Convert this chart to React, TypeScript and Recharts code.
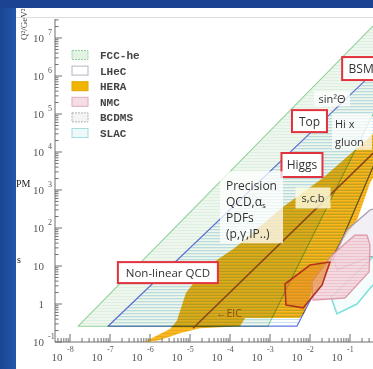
import React from "react";
import { ComposedChart, Scatter, XAxis, YAxis } from "recharts";

// kinematic reach in the (x, Q^2 / GeV^2) plane, vertices
const FCC_X = [1.6e-8, 0.53, 1.0, 1.0, 8.9e-4];
const FCC_Q2 = [0.26, 3e7, 3e7, 7.9e5, 0.26];

const LHEC_X = [8.9e-8, 1.0, 1.0, 0.35, 0.067, 4.7e-3];
const LHEC_Q2 = [0.26, 3.2e6, 3.4e4, 3.4e3, 58, 0.26];

const HERA_X = [7.1e-7, 1.41e-6, 3.16e-6, 4.7e-6, 7.9e-6, 2.4e-5, 1.33e-4, 2.1e-3, 0.021, 0.376, 1.0, 1.0, 0.316, 0.15, 0.067, 0.0316, 0.0119, 7.1e-3, 5.6e-3, 2.4e-4, 1.78e-4, 1.78e-5, 5.6e-6, 1.78e-6, 1e-6];
const HERA_Q2 = [0.1, 0.144, 0.22, 0.36, 1.95, 8.9, 30, 357, 2070, 2.98e4, 6.9e4, 1.13e4, 1530, 162, 48, 8.9, 2.6, 0.58, 0.43, 0.43, 0.26, 0.23, 0.17, 0.113, 0.1];

const EIC_X = [1.19e-5, 1.0];
const EIC_Q2 = [0.23, 2.5e4];

const NMC_X = [0.0112, 0.0355, 0.133, 0.266, 0.316, 0.3, 0.075, 0.0119];
const NMC_Q2 = [3.8, 19.5, 65, 65, 36, 7, 1.44, 1.27];

const BCDMS_X = [0.0376, 0.084, 0.316, 1.0, 1.0, 0.316, 0.047];
const BCDMS_Q2 = [16.3, 88.6, 298, 403, 23, 17.3, 7.9];

const SLAC_X = [0.0335, 0.376, 1.0, 1.0, 0.316, 0.15, 0.047];
const SLAC_Q2 = [1.53, 17.3, 36, 8.9, 2.6, 1.0, 0.55];

const HEX_X = [2.37e-3, 2.5e-3, 6.7e-3, 0.02, 0.0316, 0.01];
const HEX_Q2 = [3.36, 0.94, 0.79, 3.16, 12.7, 10.6];

const LABEL_TEXT = ["BSM", "sin²Θ", "Top", "Hi x|gluon", "Higgs", "Precision|QCD,αs|PDFs|(p,γ,IP..)", "s,c,b", "Non-linear QCD", "←EIC"];
const LABEL_X = [0.19, 0.0355, 9.7e-3, 0.112, 6.3e-3, 3.45e-4, 0.0119, 2.8e-6, 9.4e-5];
const LABEL_Q2 = [1.57e6, 2.5e5, 6.5e4, 3.4e4, 4550, 350, 617, 6.7, 0.58];

const LEGEND_NAMES = ["FCC-he", "LHeC", "HERA", "NMC", "BCDMS", "SLAC"];

const X_DECADES = [-9, -8, -7, -6, -5, -4, -3, -2, -1, 0];
const X_LABELLED = [-8, -7, -6, -5, -4, -3, -2, -1];
const Q2_DECADES = [-1, 0, 1, 2, 3, 4, 5, 6, 7];
const MINOR = [2, 3, 4, 5, 6, 7, 8, 9];

const X_DOMAIN = [-8.375, 0.25];
const Y_DOMAIN = [-1, 7.5];

const makeTicks = (decades: number[], dom: number[]) =>
  decades
    .flatMap((d) => [d, ...MINOR.map((m) => d + Math.log10(m))])
    .filter((v) => v >= dom[0] - 1e-9 && v <= dom[1] + 1e-9);

const xTicks = makeTicks(X_DECADES, X_DOMAIN);
const yTicks = makeTicks(Q2_DECADES, Y_DOMAIN);

const toPts = (xs: number[], qs: number[]) =>
  xs.map((x, i) => ({ x: Math.log10(x), y: Math.log10(qs[i]) }));

const isMajor = (v: number) => Math.abs(v - Math.round(v)) < 1e-6;

const polyLine =
  (fill: string, stroke: string, sw: number, style?: React.CSSProperties, closed = true) =>
  (p: any) => {
    const pts = p.points || [];
    const d = pts.map((q: any, i: number) => `${i ? "L" : "M"}${q.x},${q.y}`).join(" ") + (closed ? " Z" : "");
    return <path d={d} fill={fill} stroke={stroke} strokeWidth={sw} strokeLinejoin="round" style={style} />;
  };

const noDot = () => <g />;

const AXIS = "#6f6f6f";
const TICK_FONT = '"Liberation Serif", "DejaVu Serif", serif';

function XTick(p: any) {
  const v = p.payload.value;
  const major = isMajor(v);
  const e = Math.round(v);
  return (
    <g>
      <line x1={p.x} x2={p.x} y1={p.y} y2={p.y - (major ? 8 : 4)} stroke={AXIS} strokeWidth={1} />
      {major && X_LABELLED.includes(e) && (
        <g fill="#555" fontFamily={TICK_FONT}>
          <text x={p.x - 13} y={p.y + 19} fontSize={11} textAnchor="middle">10</text>
          <text x={p.x - 3} y={p.y + 10} fontSize={8}>{e}</text>
        </g>
      )}
    </g>
  );
}

function YTick(p: any) {
  const v = p.payload.value;
  const major = isMajor(v);
  const e = Math.round(v);
  return (
    <g>
      <line x1={p.x} x2={p.x + (major ? 7 : 3.5)} y1={p.y} y2={p.y} stroke={AXIS} strokeWidth={1} />
      {major && (
        <g fill="#555" fontFamily={TICK_FONT}>
          <text x={44} y={p.y + 4} fontSize={11} textAnchor="end">{e === 0 ? "1" : "10"}</text>
          {e !== 0 && e !== 1 && (
            <text x={48} y={p.y - 3} fontSize={8}>{e}</text>
          )}
        </g>
      )}
    </g>
  );
}

type BoxOpts = { w: number; h: number; red?: boolean; bg?: string; fs: number; left?: number; dy?: number[]; color?: string };

const renderLine = (t: string) =>
  t === "QCD,αs" ? (
    <>
      QCD,α<tspan fontSize={8} dy={3}>s</tspan>
    </>
  ) : (
    t
  );

const labelShape = (text: string, o: BoxOpts) => (p: any) => {
  const lines = text.split("|");
  const cx = p.cx;
  const cy = p.cy;
  return (
    <g>
      {(o.red || o.bg) && (
        <rect
          x={cx - o.w / 2}
          y={cy - o.h / 2}
          width={o.w}
          height={o.h}
          fill={o.bg || "#fff"}
          stroke={o.red ? "#e2323e" : "none"}
          strokeWidth={2}
        />
      )}
      {lines.map((t, i) => (
        <text
          key={i}
          x={o.left !== undefined ? cx - o.w / 2 + o.left : cx}
          y={cy + (o.dy ? o.dy[i] : 0)}
          textAnchor={o.left !== undefined ? "start" : "middle"}
          dominantBaseline="central"
          fontSize={o.fs}
          fill={o.color || "#333"}
          fontFamily='"Open Sans", "Liberation Sans", sans-serif'
        >
          {renderLine(t)}
        </text>
      ))}
    </g>
  );
};

const LABEL_OPTS: BoxOpts[] = [
  { w: 38, h: 23, red: true, fs: 12 },
  { w: 36, h: 15, bg: "rgba(255,255,255,0.75)", fs: 11 },
  { w: 35, h: 22, red: true, fs: 12 },
  { w: 40, h: 36, bg: "rgba(255,255,255,0.72)", fs: 11, left: 3, dy: [-8, 10] },
  { w: 41, h: 24, red: true, fs: 12 },
  { w: 63, h: 72, bg: "rgba(255,255,255,0.75)", fs: 12, left: 6, dy: [-22, -6, 10, 26] },
  { w: 35, h: 21, bg: "rgba(255,252,228,0.8)", fs: 11 },
  { w: 100, h: 21, red: true, fs: 11.5 },
  { w: 30, h: 12, fs: 10.5, color: "#8e4f10" },
];

const LEGEND_SWATCH = [
  { fill: "#e3f3e3", stroke: "#97cf9f", dash: "2 1" },
  { fill: "#ffffff", stroke: "#b4b4c4", dash: "" },
  { fill: "#f2b400", stroke: "#e3a600", dash: "" },
  { fill: "#f6dde4", stroke: "#d9aeb9", dash: "" },
  { fill: "#f4f4f4", stroke: "#b2b2b2", dash: "2 1" },
  { fill: "#eefafa", stroke: "#a6dcdc", dash: "" },
];

export default function App() {
  const regions: { key: string; pts: { x: number; y: number }[]; line: (p: any) => React.ReactNode }[] = [
    { key: "hera", pts: toPts(HERA_X, HERA_Q2), line: polyLine("url(#heraFill)", "none", 0) },
    { key: "fcc", pts: toPts(FCC_X, FCC_Q2), line: polyLine("url(#fccFill)", "#8fd39a", 1.1, { mixBlendMode: "multiply" }) },
    { key: "lhec", pts: toPts(LHEC_X, LHEC_Q2), line: polyLine("url(#lhecFill)", "#6470e6", 1.2, { mixBlendMode: "multiply" }) },
    { key: "eic", pts: toPts(EIC_X, EIC_Q2), line: polyLine("none", "#8a4512", 1.6, undefined, false) },
    { key: "bcdms", pts: toPts(BCDMS_X, BCDMS_Q2), line: polyLine("rgba(238,232,242,0.7)", "#a39aaa", 1.2) },
    { key: "slac", pts: toPts(SLAC_X, SLAC_Q2), line: polyLine("rgba(236,250,250,0.5)", "#78e0d8", 1.5) },
    { key: "nmc", pts: toPts(NMC_X, NMC_Q2), line: polyLine("url(#nmcFill)", "#d9899a", 1.3, { opacity: 0.85 }) },
    { key: "hex", pts: toPts(HEX_X, HEX_Q2), line: polyLine("rgba(232,138,36,0.55)", "#b1321f", 1.6) },
  ];

  return (
    <div
      style={{
        position: "absolute",
        left: 0,
        top: 0,
        width: 373,
        height: 369,
        overflow: "hidden",
        background: "#fff",
      }}
    >
      <svg width={0} height={0} style={{ position: "absolute" }}>
        <defs>
          <pattern id="fccFill" width={4} height={3} patternUnits="userSpaceOnUse">
            <rect width={4} height={3} fill="#eff7ec" />
            <rect y={2} width={4} height={1} fill="#deefe6" />
          </pattern>
          <pattern id="lhecFill" width={4} height={3} patternUnits="userSpaceOnUse">
            <rect y={1} width={4} height={1} fill="#c6e1f1" />
          </pattern>
          <pattern id="heraFill" width={4} height={3} patternUnits="userSpaceOnUse">
            <rect width={4} height={3} fill="#f7b823" />
            <rect y={0} width={4} height={1} fill="#eaa813" />
          </pattern>
          <pattern id="nmcFill" width={4} height={3} patternUnits="userSpaceOnUse">
            <rect width={4} height={3} fill="#f5d4dc" />
            <rect y={1} width={4} height={1} fill="#ebb8c5" />
          </pattern>
        </defs>
      </svg>

      <div style={{ position: "absolute", left: 0, top: 0, width: 16, height: 369, background: "linear-gradient(90deg,#1b4592,#2457aa)" }} />
      <div style={{ position: "absolute", left: 0, top: 0, width: 373, height: 8, background: "#1b4391" }} />
      <div style={{ position: "absolute", left: 16, top: 17, width: 357, height: 1, background: "#dedede" }} />

      <div style={{ position: "absolute", left: 0, top: 0 }}>
        <ComposedChart width={400} height={369} margin={{ top: 19, right: 0, bottom: 0, left: 0 }}>
          <XAxis
            type="number"
            dataKey="x"
            domain={X_DOMAIN}
            ticks={xTicks}
            interval={0}
            tick={(p: any) => <XTick {...p} />}
            tickLine={false}
            tickSize={0}
            tickMargin={0}
            height={27}
            axisLine={{ stroke: AXIS }}
          />
          <YAxis
            type="number"
            dataKey="y"
            domain={Y_DOMAIN}
            ticks={yTicks}
            interval={0}
            tick={(p: any) => <YTick {...p} />}
            tickLine={false}
            tickSize={0}
            tickMargin={0}
            width={55}
            axisLine={{ stroke: AXIS }}
          />
          {regions.map((r) => (
            <Scatter
              key={r.key}
              data={r.pts}
              line={r.line}
              shape={noDot}
              fill="none"
              isAnimationActive={false}
            />
          ))}
          {LABEL_TEXT.map((t, i) => (
            <Scatter
              key={"lbl" + i}
              data={[{ x: Math.log10(LABEL_X[i]), y: Math.log10(LABEL_Q2[i]) }]}
              shape={labelShape(t, LABEL_OPTS[i])}
              isAnimationActive={false}
            />
          ))}
        </ComposedChart>
      </div>

      <svg width={373} height={369} style={{ position: "absolute", left: 0, top: 0, pointerEvents: "none" }}>
        <text transform="translate(27,40) rotate(-90)" fontSize={9} fill="#444" fontFamily={TICK_FONT}>
          Q²/GeV²
        </text>
        <text x={16} y={187} fontSize={10} fill="#222" fontFamily={TICK_FONT}>PM</text>
        <text x={17} y={263} fontSize={10} fill="#222" fontFamily={TICK_FONT}>s</text>
        {LEGEND_NAMES.map((n, i) => {
          const cy = 55 + i * 15.6;
          const s = LEGEND_SWATCH[i];
          return (
            <g key={n}>
              <rect x={72} y={cy - 4.5} width={16} height={9} fill={s.fill} stroke={s.stroke} strokeDasharray={s.dash} strokeWidth={1} />
              <text x={100} y={cy + 4} fontSize={11} fontWeight="bold" fill="#444" fontFamily='"Liberation Mono", "DejaVu Sans Mono", monospace'>
                {n}
              </text>
            </g>
          );
        })}
      </svg>
    </div>
  );
}
